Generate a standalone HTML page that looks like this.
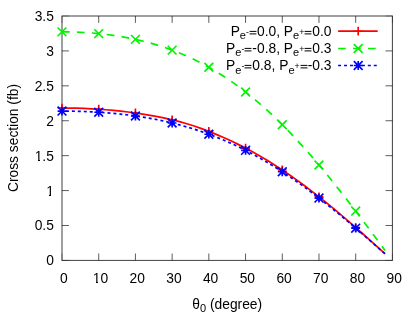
<!DOCTYPE html>
<html><head><meta charset="utf-8"><style>
html,body{margin:0;padding:0;background:#fff}
body{width:415px;height:332px;position:relative;overflow:hidden;font-family:"Liberation Sans",sans-serif;font-size:13.8px;color:#000}
div{position:absolute;white-space:nowrap;line-height:14px}
#t{left:0;top:0;width:415px;height:332px;will-change:transform}
.wb{height:1px;background:#fff}
.yt{right:361.2px;text-align:right}
.xt{top:272px;width:40px;text-align:center}
.lg{right:83.5px;text-align:right}
.lg sub,.xl sub{font-size:80%;vertical-align:-3px;line-height:0;display:inline-block;transform:translateY(0px)}
.lg sub.s3{transform:translateY(-1px)}
.lg sub.s3 sup{vertical-align:3.5px}
.eq{vertical-align:baseline;display:inline-block}
.lg sup{font-size:80%;vertical-align:4.5px;line-height:0}
.yl{left:14.1px;top:137.7px;transform:translate(-50%,-50%) rotate(-90deg)}
.xl{left:227.2px;top:297.8px;transform:translateX(-50%)}
</style></head><body>
<svg width="415" height="332" viewBox="0 0 415 332" style="position:absolute;left:0;top:0">
<g stroke="#000" stroke-width="1" fill="none" stroke-opacity="0.75">
<rect x="62.0" y="16.0" width="330.4" height="244.39999999999998"/>
<path d="M62.0 260.40h6.9M392.4 260.40h-6.9" stroke-opacity="0.3"/>
<path d="M62.0 225.49h6.9M392.4 225.49h-6.9" stroke-opacity="0.64"/>
<path d="M62.0 190.57h6.9M392.4 190.57h-6.9" stroke-opacity="0.64"/>
<path d="M62.0 155.66h6.9M392.4 155.66h-6.9" stroke-opacity="0.64"/>
<path d="M62.0 120.74h6.9M392.4 120.74h-6.9" stroke-opacity="0.64"/>
<path d="M62.0 85.83h6.9M392.4 85.83h-6.9" stroke-opacity="0.64"/>
<path d="M62.0 50.91h6.9M392.4 50.91h-6.9" stroke-opacity="0.64"/>
<path d="M62.0 16.00h6.9M392.4 16.00h-6.9" stroke-opacity="0.3"/>
<path d="M62.00 260.4v-6.9M62.00 16.0v6.9" stroke-opacity="0.3"/>
<path d="M98.71 260.4v-6.9M98.71 16.0v6.9" stroke-opacity="0.64"/>
<path d="M135.42 260.4v-6.9M135.42 16.0v6.9" stroke-opacity="0.64"/>
<path d="M172.13 260.4v-6.9M172.13 16.0v6.9" stroke-opacity="0.64"/>
<path d="M208.84 260.4v-6.9M208.84 16.0v6.9" stroke-opacity="0.64"/>
<path d="M245.56 260.4v-6.9M245.56 16.0v6.9" stroke-opacity="0.64"/>
<path d="M282.27 260.4v-6.9M282.27 16.0v6.9" stroke-opacity="0.64"/>
<path d="M318.98 260.4v-6.9M318.98 16.0v6.9" stroke-opacity="0.64"/>
<path d="M355.69 260.4v-6.9M355.69 16.0v6.9" stroke-opacity="0.64"/>
<path d="M392.40 260.4v-6.9M392.40 16.0v6.9" stroke-opacity="0.3"/>
</g>
<path d="M62.00 108.04 L69.34 108.08 L76.68 108.22 L84.03 108.46 L91.37 108.79 L98.71 109.22 L106.05 109.76 L113.40 110.40 L120.74 111.15 L128.08 112.02 L135.42 113.01 L142.76 114.10 L150.11 115.32 L157.45 116.65 L164.79 118.13 L172.13 119.78 L179.48 121.63 L186.82 123.73 L194.16 126.06 L201.50 128.63 L208.84 131.41 L216.19 134.37 L223.53 137.51 L230.87 140.85 L238.21 144.37 L245.56 148.10 L252.90 152.05 L260.24 156.20 L267.58 160.57 L274.92 165.16 L282.27 169.95 L289.61 174.94 L296.95 180.13 L304.29 185.51 L311.64 191.07 L318.98 196.80 L326.32 202.68 L333.66 208.71 L341.00 214.87 L348.35 221.15 L355.69 227.53 L363.03 234.00 L370.37 240.54 L377.72 247.13 L385.06 253.76" stroke="#ff0000" stroke-width="1.7" fill="none"/>
<path d="M57.60 108.04h8.8M62.00 103.64v8.8" stroke="#ff0000" stroke-width="1.65" fill="none"/>
<path d="M94.31 109.22h8.8M98.71 104.82v8.8" stroke="#ff0000" stroke-width="1.65" fill="none"/>
<path d="M131.02 113.01h8.8M135.42 108.61v8.8" stroke="#ff0000" stroke-width="1.65" fill="none"/>
<path d="M167.73 119.78h8.8M172.13 115.38v8.8" stroke="#ff0000" stroke-width="1.65" fill="none"/>
<path d="M204.44 131.41h8.8M208.84 127.01v8.8" stroke="#ff0000" stroke-width="1.65" fill="none"/>
<path d="M241.16 148.10h8.8M245.56 143.70v8.8" stroke="#ff0000" stroke-width="1.65" fill="none"/>
<path d="M277.87 169.95h8.8M282.27 165.55v8.8" stroke="#ff0000" stroke-width="1.65" fill="none"/>
<path d="M314.58 196.80h8.8M318.98 192.40v8.8" stroke="#ff0000" stroke-width="1.65" fill="none"/>
<path d="M351.29 227.53h8.8M355.69 223.13v8.8" stroke="#ff0000" stroke-width="1.65" fill="none"/>
<path d="M62.00 31.86 L69.34 31.93 L76.68 32.13 L84.03 32.49 L91.37 32.98 L98.71 33.63 L106.05 34.44 L113.40 35.40 L120.74 36.54 L128.08 37.86 L135.42 39.36 L142.76 41.07 L150.11 42.99 L157.45 45.13 L164.79 47.50 L172.13 50.12 L179.48 52.99 L186.82 56.13 L194.16 59.55 L201.50 63.25 L208.84 67.26 L216.19 71.56 L223.53 76.18 L230.87 81.12 L238.21 86.38 L245.56 91.96 L252.90 97.87 L260.24 104.10 L267.58 110.66 L274.92 117.53 L282.27 124.72 L289.61 132.21 L296.95 140.00 L304.29 148.07 L311.64 156.40 L318.98 164.99 L326.32 173.82 L333.66 182.87 L341.00 192.11 L348.35 201.53 L355.69 211.10 L363.03 220.80 L370.37 230.61 L377.72 240.50 L385.06 250.43" stroke="#00f400" stroke-width="1.7" fill="none" stroke-dasharray="7.7 7.245"/>
<path d="M57.60 27.46l8.8 8.8M57.60 36.26l8.8 -8.8" stroke="#00f400" stroke-width="1.65" fill="none"/>
<path d="M94.31 29.23l8.8 8.8M94.31 38.03l8.8 -8.8" stroke="#00f400" stroke-width="1.65" fill="none"/>
<path d="M131.02 34.96l8.8 8.8M131.02 43.76l8.8 -8.8" stroke="#00f400" stroke-width="1.65" fill="none"/>
<path d="M167.73 45.72l8.8 8.8M167.73 54.52l8.8 -8.8" stroke="#00f400" stroke-width="1.65" fill="none"/>
<path d="M204.44 62.86l8.8 8.8M204.44 71.66l8.8 -8.8" stroke="#00f400" stroke-width="1.65" fill="none"/>
<path d="M241.16 87.56l8.8 8.8M241.16 96.36l8.8 -8.8" stroke="#00f400" stroke-width="1.65" fill="none"/>
<path d="M277.87 120.32l8.8 8.8M277.87 129.12l8.8 -8.8" stroke="#00f400" stroke-width="1.65" fill="none"/>
<path d="M314.58 160.59l8.8 8.8M314.58 169.39l8.8 -8.8" stroke="#00f400" stroke-width="1.65" fill="none"/>
<path d="M351.29 206.70l8.8 8.8M351.29 215.50l8.8 -8.8" stroke="#00f400" stroke-width="1.65" fill="none"/>
<path d="M62.00 111.08 L69.34 111.13 L76.68 111.27 L84.03 111.50 L91.37 111.82 L98.71 112.25 L106.05 112.77 L113.40 113.40 L120.74 114.14 L128.08 115.01 L135.42 115.99 L142.76 117.10 L150.11 118.36 L157.45 119.75 L164.79 121.30 L172.13 123.01 L179.48 124.89 L186.82 126.94 L194.16 129.18 L201.50 131.60 L208.84 134.21 L216.19 137.03 L223.53 140.05 L230.87 143.27 L238.21 146.71 L245.56 150.35 L252.90 154.21 L260.24 158.29 L267.58 162.57 L274.92 167.06 L282.27 171.76 L289.61 176.65 L296.95 181.74 L304.29 187.01 L311.64 192.46 L318.98 198.07 L326.32 203.83 L333.66 209.74 L341.00 215.78 L348.35 221.94 L355.69 228.19 L363.03 234.53 L370.37 240.94 L377.72 247.40 L385.06 253.89" stroke="#0000ff" stroke-width="1.7" fill="none" stroke-dasharray="3 2.943" stroke-dashoffset="2"/>
<path d="M57.60 111.08h8.8M62.00 106.68v8.8M57.60 106.68l8.8 8.8M57.60 115.48l8.8 -8.8" stroke="#0000ff" stroke-width="1.65" fill="none"/>
<path d="M94.31 112.25h8.8M98.71 107.85v8.8M94.31 107.85l8.8 8.8M94.31 116.65l8.8 -8.8" stroke="#0000ff" stroke-width="1.65" fill="none"/>
<path d="M131.02 115.99h8.8M135.42 111.59v8.8M131.02 111.59l8.8 8.8M131.02 120.39l8.8 -8.8" stroke="#0000ff" stroke-width="1.65" fill="none"/>
<path d="M167.73 123.01h8.8M172.13 118.61v8.8M167.73 118.61l8.8 8.8M167.73 127.41l8.8 -8.8" stroke="#0000ff" stroke-width="1.65" fill="none"/>
<path d="M204.44 134.21h8.8M208.84 129.81v8.8M204.44 129.81l8.8 8.8M204.44 138.61l8.8 -8.8" stroke="#0000ff" stroke-width="1.65" fill="none"/>
<path d="M241.16 150.35h8.8M245.56 145.95v8.8M241.16 145.95l8.8 8.8M241.16 154.75l8.8 -8.8" stroke="#0000ff" stroke-width="1.65" fill="none"/>
<path d="M277.87 171.76h8.8M282.27 167.36v8.8M277.87 167.36l8.8 8.8M277.87 176.16l8.8 -8.8" stroke="#0000ff" stroke-width="1.65" fill="none"/>
<path d="M314.58 198.07h8.8M318.98 193.67v8.8M314.58 193.67l8.8 8.8M314.58 202.47l8.8 -8.8" stroke="#0000ff" stroke-width="1.65" fill="none"/>
<path d="M351.29 228.19h8.8M355.69 223.79v8.8M351.29 223.79l8.8 8.8M351.29 232.59l8.8 -8.8" stroke="#0000ff" stroke-width="1.65" fill="none"/>
<path d="M338.1 31.2H377.7" stroke="#ff0000" stroke-width="1.7" fill="none"/>
<path d="M353.80 31.20h8.8M358.20 26.80v8.8" stroke="#ff0000" stroke-width="1.65" fill="none"/>
<path d="M338.1 48.5H377.7" stroke="#00f400" stroke-width="1.7" fill="none" stroke-dasharray="7.7 7.245"/>
<path d="M353.80 44.10l8.8 8.8M353.80 52.90l8.8 -8.8" stroke="#00f400" stroke-width="1.65" fill="none"/>
<path d="M338.1 65.5H377.7" stroke="#0000ff" stroke-width="1.7" fill="none" stroke-dasharray="3 2.943"/>
<path d="M353.80 65.50h8.8M358.20 61.10v8.8M353.80 61.10l8.8 8.8M353.80 69.90l8.8 -8.8" stroke="#0000ff" stroke-width="1.65" fill="none"/>
</svg>
<div id="t">
<div class="yt" style="top:254.40px">0</div>
<div class="yt" style="top:219.49px">0.5</div>
<div class="yt" style="top:184.57px">1</div>
<div class="yt" style="top:149.66px">1.5</div>
<div class="yt" style="top:114.74px">2</div>
<div class="yt" style="top:79.83px">2.5</div>
<div class="yt" style="top:44.91px">3</div>
<div class="yt" style="top:10.00px">3.5</div>
<div class="xt" style="left:43.80px">0</div>
<div class="xt" style="left:80.51px">10</div>
<div class="xt" style="left:117.22px">20</div>
<div class="xt" style="left:153.93px">30</div>
<div class="xt" style="left:190.64px">40</div>
<div class="xt" style="left:227.36px">50</div>
<div class="xt" style="left:264.07px">60</div>
<div class="xt" style="left:300.78px">70</div>
<div class="xt" style="left:337.49px">80</div>
<div class="xt" style="left:374.20px">90</div>
<div class="lg" style="top:25px">P<sub class="s3">e<sup>-</sup></sub><svg class="eq" width="8" height="8" viewBox="0 0 8 8"><path d="M0.55 5.9h6.9M0.55 3.4h6.9" stroke="#000" stroke-width="1" fill="none"/></svg>0.0, P<sub class="s3">e<sup>+</sup></sub><svg class="eq" width="8" height="8" viewBox="0 0 8 8"><path d="M0.55 5.9h6.9M0.55 3.4h6.9" stroke="#000" stroke-width="1" fill="none"/></svg>0.0</div>
<div class="lg" style="top:42px">P<sub class="s3">e<sup>-</sup></sub><svg class="eq" width="8" height="8" viewBox="0 0 8 8"><path d="M0.55 5.9h6.9M0.55 3.4h6.9" stroke="#000" stroke-width="1" fill="none"/></svg>-0.8, P<sub class="s3">e<sup>+</sup></sub><svg class="eq" width="8" height="8" viewBox="0 0 8 8"><path d="M0.55 5.9h6.9M0.55 3.4h6.9" stroke="#000" stroke-width="1" fill="none"/></svg>0.3</div>
<div class="lg" style="top:59px">P<sub class="s4">e<sup>-</sup></sub><svg class="eq" width="8" height="8" viewBox="0 0 8 8"><path d="M0.55 5.9h6.9M0.55 3.4h6.9" stroke="#000" stroke-width="1" fill="none"/></svg>0.8, P<sub class="s4">e<sup>+</sup></sub><svg class="eq" width="8" height="8" viewBox="0 0 8 8"><path d="M0.55 5.9h6.9M0.55 3.4h6.9" stroke="#000" stroke-width="1" fill="none"/></svg>-0.3</div>
<div class="wb" style="left:93px;top:282px;width:3px"></div>
<div class="wb" style="left:98px;top:282px;width:3px"></div>
<div class="wb" style="left:46px;top:195px;width:3px"></div>
<div class="wb" style="left:51px;top:195px;width:3px"></div>
<div class="wb" style="left:34px;top:160px;width:4px"></div>
<div class="wb" style="left:40px;top:160px;width:3px"></div>
<div class="yl">Cross section (fb)</div>
<div class="xl">θ<sub>0</sub> (degree)</div>
</div>
</body></html>
